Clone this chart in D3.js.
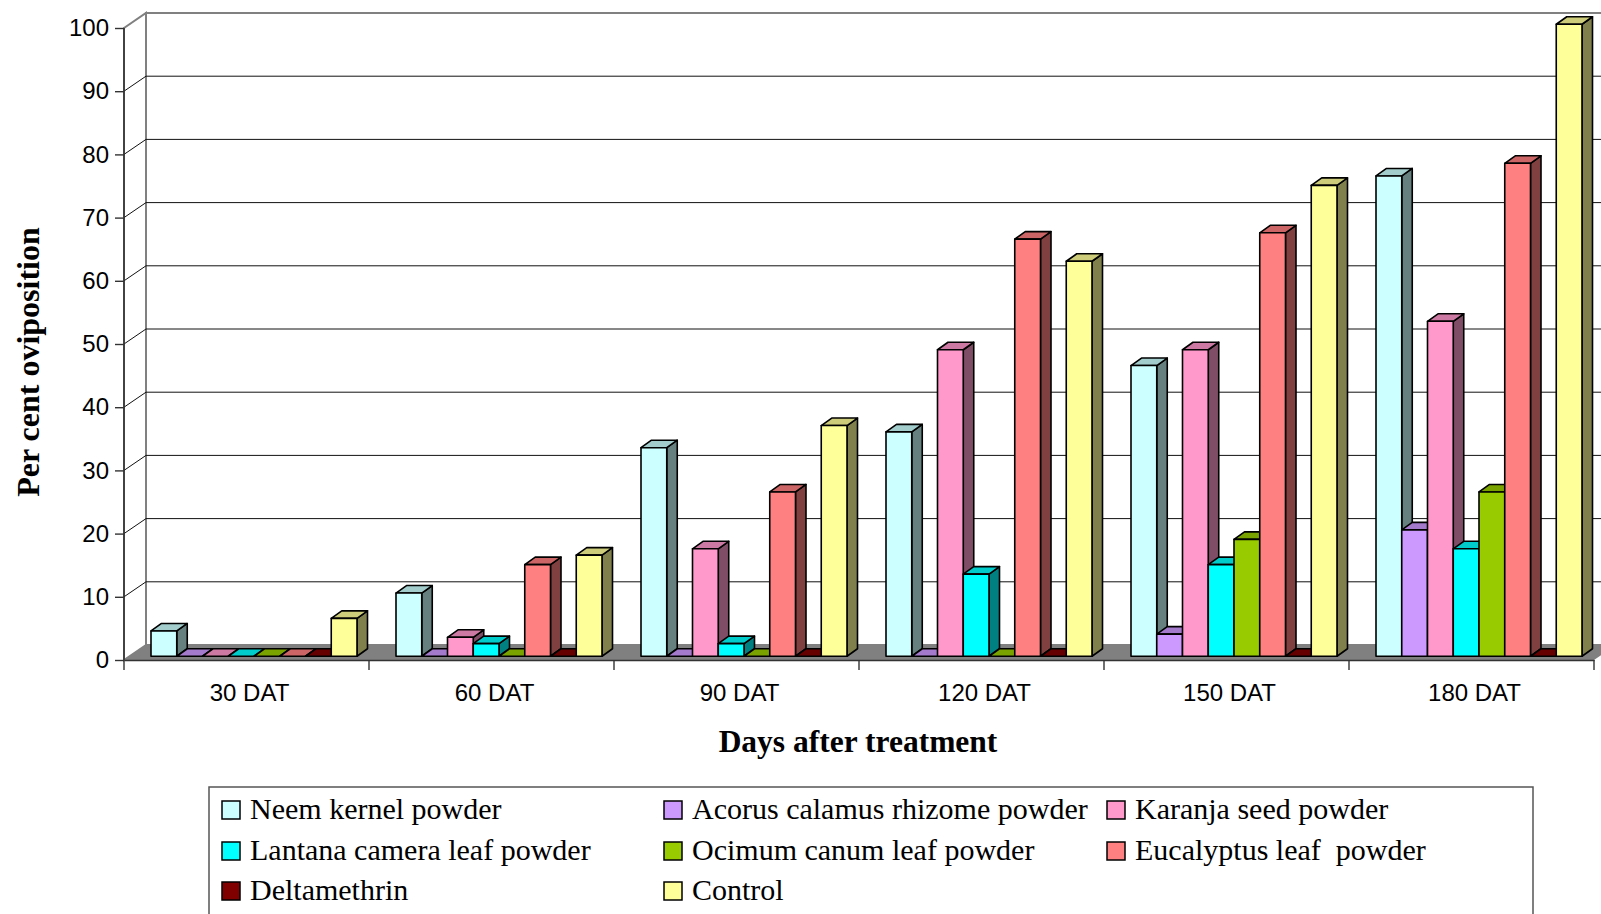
<!DOCTYPE html>
<html>
<head>
<meta charset="utf-8">
<script src="https://cdn.jsdelivr.net/npm/d3@7"></script>
<style>
  body { margin: 0; background: #fff; }
  svg { display: block; }
  .tick text { font-family: "Liberation Sans", Arial, sans-serif; font-size: 24px; fill: #000; }
</style>
</head>
<body>
<script>
// categories and series
var categories = ["30 DAT", "60 DAT", "90 DAT", "120 DAT", "150 DAT", "180 DAT"];
var seriesNames = ["Neem kernel powder", "Acorus calamus rhizome powder", "Karanja seed powder",
    "Lantana camera leaf powder", "Ocimum canum leaf powder", "Eucalyptus leaf  powder",
    "Deltamethrin", "Control"];
var seriesColours = ["#CCFFFF", "#CC99FF", "#FF99CC", "#00FFFF", "#99CC00", "#FF8080", "#800000", "#FFFF99"];

var neem       = [4, 10, 33, 35.5, 46, 76];
var acorus     = [0, 0, 0, 0, 3.5, 20];
var karanja    = [0, 3, 17, 48.5, 48.5, 53];
var lantana    = [0, 2, 2, 13, 14.5, 17];
var ocimum     = [0, 0, 0, 0, 18.5, 26];
var eucalyptus = [0, 14.5, 26, 66, 67, 78];
var delta      = [0, 0, 0, 0, 0, 0];
var control    = [6, 16, 36.5, 62.5, 74.5, 100];
var seriesValues = [neem, acorus, karanja, lantana, ocimum, eucalyptus, delta, control];

var yTicks = [0, 10, 20, 30, 40, 50, 60, 70, 80, 90, 100];

var W = 1601, H = 914;
// depth of the floor / walls
var depthX = 22, depthY = -15;
// bar placement in depth
var frontDX = 5.5, frontDY = -3.75, barDX = 10.5, barDY = -7.5;

var svg = d3.select("body").append("svg")
    .attr("width", W)
    .attr("height", H);

var y = d3.scaleLinear().domain([0, 100]).range([660, 28]);
var x0 = d3.scaleBand().domain(categories).range([124, 1594]);
var groupW = 206;
var x1 = d3.scaleBand().domain(seriesNames).range([0, groupW]);
var groupOff = (x0.bandwidth() - groupW) / 2 + 2;

function shade(c, k) {
    var r = d3.rgb(c);
    return d3.rgb(r.r * k, r.g * k, r.b * k).formatHex();
}
function pts(a) { return a.map(function(p) { return p.join(","); }).join(" "); }

var xL = x0.range()[0], xR = x0.range()[1];

// back wall
svg.append("rect")
    .attr("x", xL + depthX).attr("y", y(100) + depthY)
    .attr("width", xR - xL).attr("height", y(0) - y(100))
    .attr("fill", "#fff").attr("stroke", "#808080").attr("stroke-width", 2);

// left wall
svg.append("polygon")
    .attr("points", pts([[xL, y(100)], [xL + depthX, y(100) + depthY], [xL + depthX, y(0) + depthY], [xL, y(0)]]))
    .attr("fill", "#fff").attr("stroke", "#808080").attr("stroke-width", 2);

// gridlines
var grid = svg.append("g").attr("class", "grid");
grid.selectAll("line.back")
    .data(yTicks.filter(function(d) { return d > 0 && d < 100; }))
    .enter().append("line")
    .attr("class", "back")
    .attr("x1", xL + depthX).attr("x2", xR + depthX)
    .attr("y1", function(d) { return y(d) + depthY; })
    .attr("y2", function(d) { return y(d) + depthY; })
    .attr("stroke", "#111").attr("stroke-width", 1);
grid.selectAll("line.side")
    .data(yTicks.filter(function(d) { return d > 0 && d < 100; }))
    .enter().append("line")
    .attr("class", "side")
    .attr("x1", xL).attr("x2", xL + depthX)
    .attr("y1", function(d) { return y(d); })
    .attr("y2", function(d) { return y(d) + depthY; })
    .attr("stroke", "#111").attr("stroke-width", 1);

// floor
svg.append("polygon")
    .attr("points", pts([[xL, y(0)], [xL + depthX, y(0) + depthY], [xR + depthX, y(0) + depthY], [xR, y(0)]]))
    .attr("fill", "#808080");

// bars, left to right
var bars = svg.append("g").attr("class", "bars");
categories.forEach(function(cat, ci) {
    seriesNames.forEach(function(s, si) {
        var v = seriesValues[si][ci];
        var col = seriesColours[si];
        var xf = x0(cat) + groupOff + x1(s) + frontDX;
        var w = x1.bandwidth();
        var yb = y(0) + frontDY;
        var yt = y(v) + frontDY;
        var g = bars.append("g")
            .attr("stroke", "#000").attr("stroke-width", 1.6).attr("stroke-linejoin", "round");
        g.append("polygon")
            .attr("points", pts([[xf + w, yt], [xf + w + barDX, yt + barDY], [xf + w + barDX, yb + barDY], [xf + w, yb]]))
            .attr("fill", shade(col, 0.5));
        g.append("polygon")
            .attr("points", pts([[xf, yt], [xf + barDX, yt + barDY], [xf + w + barDX, yt + barDY], [xf + w, yt]]))
            .attr("fill", shade(col, 0.8));
        g.append("rect")
            .attr("x", xf).attr("y", yt)
            .attr("width", w).attr("height", yb - yt)
            .attr("fill", col);
    });
});

// y axis
var yAxis = svg.append("g")
    .attr("transform", "translate(" + xL + ",0)")
    .call(d3.axisLeft(y).tickValues(yTicks).tickSize(9).tickPadding(6));
yAxis.select(".domain").attr("stroke", "#333").attr("stroke-width", 1.6).attr("d", "M0," + y(100) + "V" + y(0));
yAxis.selectAll(".tick line").attr("stroke", "#333").attr("stroke-width", 1.4);

// x axis
var xAxis = svg.append("g")
    .attr("transform", "translate(0," + y(0) + ")")
    .call(d3.axisBottom(x0).tickSize(0).tickPadding(24));
xAxis.select(".domain").attr("stroke", "#333").attr("stroke-width", 1.6);
xAxis.selectAll(".tick text").attr("x", 3);
xAxis.selectAll("line.sep")
    .data(categories.map(function(c) { return x0(c); }).concat([xR]))
    .enter().append("line")
    .attr("class", "sep")
    .attr("x1", function(d) { return d; }).attr("x2", function(d) { return d; })
    .attr("y1", 0).attr("y2", 10)
    .attr("stroke", "#333").attr("stroke-width", 1.4);

// axis titles
svg.append("text")
    .attr("x", 858).attr("y", 752)
    .attr("text-anchor", "middle")
    .style("font-family", "'Liberation Serif', 'Times New Roman', serif")
    .style("font-weight", "bold").style("font-size", "31.5px")
    .text("Days after treatment");

svg.append("text")
    .attr("transform", "translate(39,362) rotate(-90)")
    .attr("text-anchor", "middle")
    .style("font-family", "'Liberation Serif', 'Times New Roman', serif")
    .style("font-weight", "bold").style("font-size", "32px")
    .text("Per cent oviposition");

// legend
var legend = svg.append("g").attr("class", "legend");
legend.append("rect")
    .attr("x", 209).attr("y", 787)
    .attr("width", 1533 - 209).attr("height", 200)
    .attr("fill", "#fff").attr("stroke", "#555").attr("stroke-width", 1.5);

var legCols = [222, 664, 1107], legRows = [819, 860, 900];
var item = legend.selectAll("g.item")
    .data(seriesNames)
    .enter().append("g")
    .attr("class", "item")
    .attr("transform", function(d, i) {
        return "translate(" + legCols[i % 3] + "," + legRows[Math.floor(i / 3)] + ")";
    });
item.append("rect")
    .attr("x", 0).attr("y", -18)
    .attr("width", 18).attr("height", 18)
    .attr("fill", function(d, i) { return seriesColours[i]; })
    .attr("stroke", "#000").attr("stroke-width", 1.5);
item.append("text")
    .attr("x", 28).attr("y", 0)
    .style("font-family", "'Liberation Serif', 'Times New Roman', serif")
    .style("font-size", "30px")
    .style("white-space", "pre")
    .attr("xml:space", "preserve")
    .text(function(d) { return d; });
</script>
</body>
</html>
